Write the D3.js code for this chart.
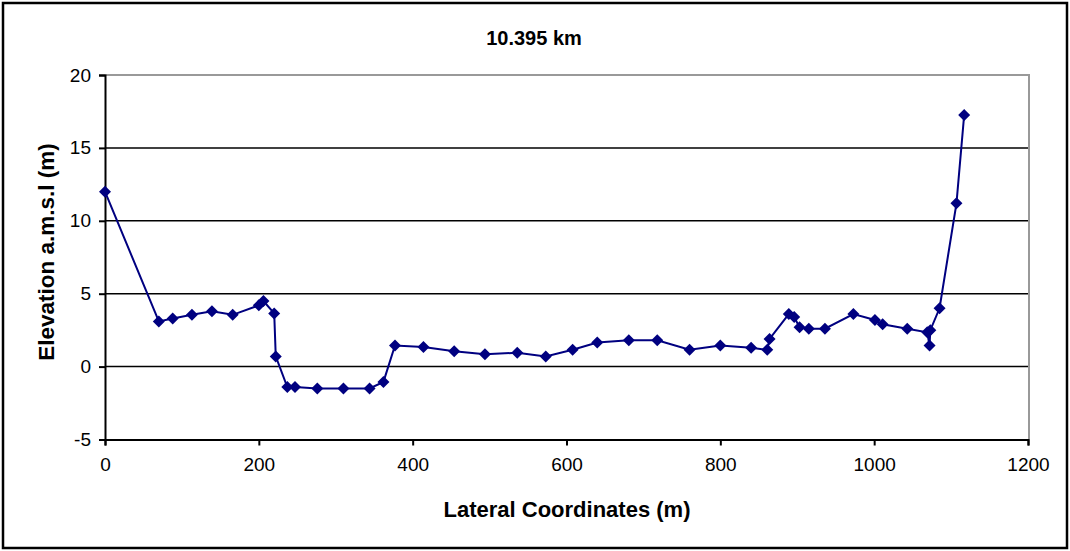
<!DOCTYPE html>
<html>
<head>
<meta charset="utf-8">
<script src="https://cdn.jsdelivr.net/npm/d3@7"></script>
<style>
  html, body { margin: 0; padding: 0; background: #fff; }
  svg text { font-family: "Liberation Sans", Arial, sans-serif; fill: #000; }
</style>
</head>
<body>
<svg id="chart" width="1070" height="551"></svg>
<script>
// Cross-section profile at chainage 10.395 km
const chartTitle = "10.395 km";
const xLabel = "Lateral Coordinates (m)";
const yLabel = "Elevation a.m.s.l (m)";

// Lateral offset (m) of each surveyed point
const lateral = [0, 70, 88, 113, 139, 166, 200, 206, 220, 222, 237, 247, 276, 310, 344, 362,
  377, 414, 454, 494, 536, 573, 608, 640, 681, 718, 760, 800, 840, 861, 864, 889, 896, 903,
  915, 936, 973, 1001, 1011, 1043, 1069, 1072, 1073, 1085, 1107, 1117];
// Ground elevation (m a.m.s.l) at each point
const elevation = [12, 3.1, 3.3, 3.55, 3.8, 3.55, 4.2, 4.5, 3.65, 0.7, -1.4, -1.4, -1.5, -1.5,
  -1.5, -1.05, 1.45, 1.35, 1.05, 0.85, 0.95, 0.7, 1.15, 1.65, 1.8, 1.8, 1.15, 1.45, 1.3, 1.15,
  1.9, 3.6, 3.4, 2.7, 2.6, 2.6, 3.6, 3.2, 2.9, 2.6, 2.35, 1.45, 2.5, 4.0, 11.2, 17.25];

const xTicks = [0, 200, 400, 600, 800, 1000, 1200];
const yTicks = [-5, 0, 5, 10, 15, 20];

const svg = d3.select("#chart");
const W = 1070, H = 551;
const plot = { left: 105, right: 1028, top: 75, bottom: 439.5 };
const tickFmt = d => String(d); // plain hyphen for negatives

// Outer chart frame
svg.append("rect")
  .attr("x", 3).attr("y", 3).attr("width", W - 6).attr("height", H - 6)
  .attr("fill", "#fff").attr("stroke", "#000").attr("stroke-width", 2.5);

const x = d3.scaleLinear().domain([0, 1200]).range([plot.left, plot.right]);
const y = d3.scaleLinear().domain([-5, 20]).range([plot.bottom, plot.top]);

// Horizontal gridlines
svg.append("g")
  .selectAll("line")
  .data(yTicks.filter(v => v > -5 && v < 20))
  .join("line")
  .attr("x1", plot.left).attr("x2", plot.right)
  .attr("y1", d => y(d)).attr("y2", d => y(d))
  .attr("stroke", "#000").attr("stroke-width", 1.5);

// Plot-area border (top and right, grey)
svg.append("path")
  .attr("d", `M${plot.left},${y(20)}H${plot.right + 1}V${plot.bottom}`)
  .attr("fill", "none").attr("stroke", "#999").attr("stroke-width", 2);

// Y axis
const yAxis = d3.axisLeft(y).tickValues(yTicks).tickSize(6).tickPadding(8).tickFormat(tickFmt);
const gy = svg.append("g").attr("transform", `translate(${plot.left},0)`).call(yAxis);
gy.select(".domain").attr("stroke", "#000").attr("stroke-width", 2);
gy.selectAll(".tick line").attr("stroke", "#000").attr("stroke-width", 2);
gy.selectAll(".tick text").attr("font-size", 19).attr("font-family", "Liberation Sans, Arial, sans-serif");

// X axis
const xAxis = d3.axisBottom(x).tickValues(xTicks).tickSize(6).tickPadding(12).tickFormat(tickFmt);
const gx = svg.append("g").attr("transform", `translate(0,${plot.bottom})`).call(xAxis);
gx.select(".domain").attr("stroke", "#000").attr("stroke-width", 2);
gx.selectAll(".tick line").attr("stroke", "#000").attr("stroke-width", 2);
gx.selectAll(".tick text").attr("font-size", 19).attr("font-family", "Liberation Sans, Arial, sans-serif");

// Profile line
const pts = lateral.map((v, i) => [v, elevation[i]]);
svg.append("path")
  .datum(pts)
  .attr("fill", "none")
  .attr("stroke", "#000080")
  .attr("stroke-width", 2)
  .attr("d", d3.line().x(d => x(d[0])).y(d => y(d[1])));

// Diamond markers
const r = 6;
svg.append("g")
  .selectAll("path")
  .data(pts)
  .join("path")
  .attr("transform", d => `translate(${x(d[0])},${y(d[1])})`)
  .attr("d", `M0,${-r}L${r},0L0,${r}L${-r},0Z`)
  .attr("fill", "#000080");

// Titles
svg.append("text")
  .attr("x", 534).attr("y", 45)
  .attr("text-anchor", "middle")
  .attr("font-size", 20).attr("font-weight", "bold")
  .text(chartTitle);

svg.append("text")
  .attr("x", 567).attr("y", 517)
  .attr("text-anchor", "middle")
  .attr("font-size", 22).attr("font-weight", "bold")
  .text(xLabel);

svg.append("text")
  .attr("transform", `translate(54,252) rotate(-90)`)
  .attr("text-anchor", "middle")
  .attr("font-size", 22.5).attr("font-weight", "bold")
  .text(yLabel);
</script>
</body>
</html>
